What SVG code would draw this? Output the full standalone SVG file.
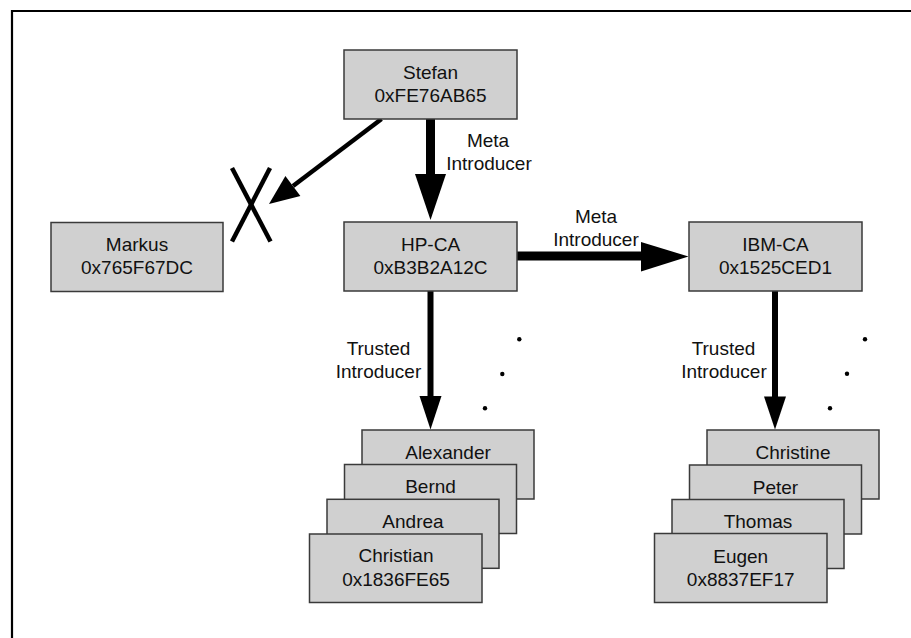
<svg xmlns="http://www.w3.org/2000/svg" width="911" height="638" viewBox="0 0 911 638">
<style>
.box{fill:#d0d0d0;stroke:#3a3a3a;stroke-width:1.5}
text{font-family:"Liberation Sans",Arial,sans-serif;font-size:19px;fill:#111;text-anchor:middle}
.ah{fill:#000;stroke:none}
.ln{stroke:#000;fill:none}
</style>
<rect width="911" height="638" fill="#fff"/>
<path d="M12 640 V11 H913" fill="none" stroke="#000" stroke-width="2.2"/>

<g id="connectors">
  <rect class="ah" x="426" y="118" width="9" height="57"/>
  <polygon class="ah" points="415,174 446,174 430.5,220"/>
  <line class="ln" x1="381.5" y1="119" x2="293" y2="186" stroke-width="4.5"/>
  <polygon class="ah" points="300.4,195.9 285.4,175.9 269,204"/>
  <line class="ln" x1="232" y1="168" x2="270.5" y2="241.5" stroke-width="4.5"/>
  <line class="ln" x1="270" y1="168" x2="232" y2="241.5" stroke-width="4.5"/>
  <rect class="ah" x="517" y="251.5" width="125" height="9"/>
  <polygon class="ah" points="641,242 641,271.5 688.5,256.5"/>
  <rect class="ah" x="427.5" y="291" width="6" height="106"/>
  <polygon class="ah" points="419.5,396 441.5,396 430.5,429.5"/>
  <rect class="ah" x="772" y="291" width="6" height="106"/>
  <polygon class="ah" points="764,396.5 786,396.5 775,429.5"/>
  <circle class="ah" cx="519.3" cy="339.3" r="2.2"/>
  <circle class="ah" cx="502.3" cy="374" r="2.2"/>
  <circle class="ah" cx="485" cy="408.3" r="2.2"/>
  <circle class="ah" cx="865" cy="339.3" r="2.2"/>
  <circle class="ah" cx="847" cy="373.7" r="2.2"/>
  <circle class="ah" cx="830" cy="408.3" r="2.2"/>
  <text x="488" y="147">Meta</text>
  <text x="489" y="170">Introducer</text>
  <text x="596" y="223">Meta</text>
  <text x="596" y="246">Introducer</text>
  <text x="378.5" y="354.5">Trusted</text>
  <text x="378.5" y="377.5">Introducer</text>
  <text x="723.5" y="355">Trusted</text>
  <text x="724" y="377.7">Introducer</text>
</g>

<g id="stefan">
  <rect class="box" x="344" y="50" width="173" height="69"/>
  <text x="430.5" y="78.5">Stefan</text>
  <text x="430.5" y="101.5">0xFE76AB65</text>
</g>
<g id="markus">
  <rect class="box" x="51" y="222.5" width="172" height="69"/>
  <text x="137" y="250.5">Markus</text>
  <text x="137" y="274">0x765F67DC</text>
</g>
<g id="hp-ca">
  <rect class="box" x="344" y="222" width="173" height="69"/>
  <text x="430.5" y="250.5">HP-CA</text>
  <text x="430.5" y="273.5">0xB3B2A12C</text>
</g>
<g id="ibm-ca">
  <rect class="box" x="689" y="222" width="173" height="69"/>
  <text x="775.5" y="250.5">IBM-CA</text>
  <text x="775.5" y="273.5">0x1525CED1</text>
</g>

<g id="alexander">
  <rect class="box" x="362" y="430" width="172" height="69"/>
  <text x="448" y="458.5">Alexander</text>
</g>
<g id="bernd">
  <rect class="box" x="344.5" y="464.5" width="172" height="69"/>
  <text x="430.5" y="493">Bernd</text>
</g>
<g id="andrea">
  <rect class="box" x="327" y="499.3" width="172" height="69"/>
  <text x="413" y="527.8">Andrea</text>
</g>
<g id="christian">
  <rect class="box" x="309.5" y="534" width="172.5" height="68.5"/>
  <text x="396" y="562">Christian</text>
  <text x="396" y="586">0x1836FE65</text>
</g>

<g id="christine">
  <rect class="box" x="707" y="430" width="172" height="69"/>
  <text x="793" y="459">Christine</text>
</g>
<g id="peter">
  <rect class="box" x="689.5" y="465" width="172" height="69"/>
  <text x="775.5" y="493.5">Peter</text>
</g>
<g id="thomas">
  <rect class="box" x="672" y="499.5" width="172" height="69"/>
  <text x="758" y="528">Thomas</text>
</g>
<g id="eugen">
  <rect class="box" x="654.5" y="533.5" width="172.5" height="69"/>
  <text x="740.7" y="562.5">Eugen</text>
  <text x="740.7" y="586">0x8837EF17</text>
</g>
</svg>
